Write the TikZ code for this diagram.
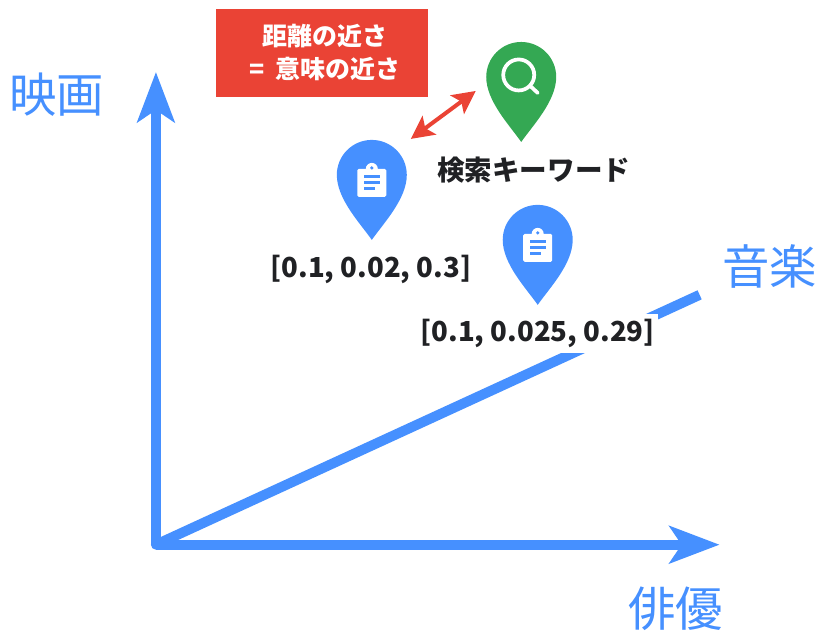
\documentclass[tikz,border=0pt]{standalone}
\usepackage{fontspec}
\setmainfont{Noto Sans CJK JP}
\usetikzlibrary{arrows.meta}
\definecolor{axisblue}{HTML}{4690FF}
\definecolor{pingreen}{HTML}{34A853}
\definecolor{boxred}{HTML}{EA4335}
\definecolor{inkdark}{HTML}{202124}
\begin{document}
\begin{tikzpicture}[x=0.02cm, y=0.02cm]
    \tikzstyle{axis_style} = [draw=axisblue, line width=0.2cm, -{Stealth[length=1cm, width=0.74cm, inset=0.24cm]}]
    \tikzstyle{near_style} = [draw=boxred, line width=0.08cm, {Stealth[length=0.46cm, width=0.46cm, inset=0.1cm]}-{Stealth[length=0.46cm, width=0.46cm, inset=0.1cm]}]
    \tikzstyle{axis_label} = [text=axisblue, font=\fontsize{27}{30}\selectfont, inner sep=0]
    \tikzstyle{vec_label} = [text=inkdark, font=\fontsize{15.7}{18}\selectfont\bfseries, inner sep=0]
    \tikzset{
      doc_pin/.pic={
        \fill[axisblue] (0,-65) .. controls (-12,-48) and (-35,-24) .. (-35,0)
          arc[start angle=180, end angle=0, radius=35]
          .. controls (35,-24) and (12,-48) .. (0,-65) -- cycle;
        \fill[white, rounded corners=0.03cm] (-14.5,6) rectangle (14.5,-22);
        \fill[white] (0,6) circle (6);
        \fill[axisblue] (0,7) circle (1.8);
        \fill[axisblue] (-8,-0.5) rectangle (8,-3.5);
        \fill[axisblue] (-8,-6.5) rectangle (8,-9.5);
        \fill[axisblue] (-8,-12.5) rectangle (3,-15.5);
      },
      search_pin/.pic={
        \fill[pingreen] (0,-65) .. controls (-12,-48) and (-35,-24) .. (-35,0)
          arc[start angle=180, end angle=0, radius=35]
          .. controls (35,-24) and (12,-48) .. (0,-65) -- cycle;
        \draw[white, line width=0.075cm] (-2.5,2) circle (15.5);
        \draw[white, line width=0.075cm, line cap=round] (9,-9) -- (16.5,-16);
      }
    }

    \coordinate (origin) at (156,87);
    \coordinate (movie_end) at (156,560);
    \coordinate (actor_end) at (720,87);
    \coordinate (music_end) at (700,337);
    \coordinate (near_a) at (411,493);
    \coordinate (near_b) at (476,541);

    \draw[draw=axisblue, line width=0.2cm] (origin) -- (music_end);
    \draw[axis_style] (origin) -- (movie_end);
    \draw[axis_style] (origin) -- (actor_end);
    \fill[axisblue] (origin) circle (5);

    \node[fill=boxred, minimum width=4.24cm, minimum height=1.76cm, inner sep=0, text=white, align=center,
          font=\fontsize{14.2}{18.8}\selectfont\bfseries] (near_box) at (322,579) {\hspace*{0.12cm}距離の近さ\\\hspace*{0.12cm}=\hspace{0.24em} 意味の近さ};

    \pic (pin_query) at (521.5,555) {search_pin};
    \pic (pin_doc1) at (372,457) {doc_pin};
    \pic (pin_doc2) at (538,392) {doc_pin};
    \draw[near_style] (near_a) -- (near_b);

    \node[vec_label] (query_label) at (534,462) {検索キーワード};
    \node[vec_label] (doc1_label) at (371,362) {[0.1, 0.02, 0.3]};
    \node[vec_label, fill=white, inner xsep=2, inner ysep=3] (doc2_label) at (538,298) {[0.1, 0.025, 0.29]};

    \node[axis_label] (movie_label) at (57,537) {映画};
    \node[axis_label] (music_label) at (770,365) {音楽};
    \node[axis_label] (actor_label) at (676,23) {俳優};

    \useasboundingbox (0,0) rectangle (817,632);
\end{tikzpicture}
\end{document}
